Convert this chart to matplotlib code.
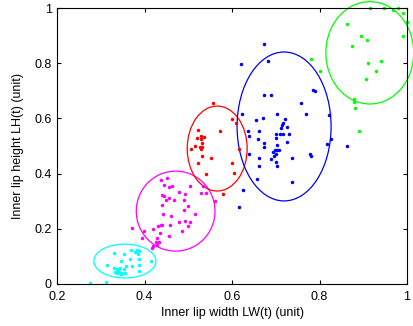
import matplotlib
matplotlib.use("Agg")
import matplotlib.pyplot as plt
from matplotlib.patches import Ellipse

plt.rcParams['font.family'] = ['Liberation Sans', 'DejaVu Sans']

# cluster points (inner lip width, inner lip height)
cyan_x = [0.329, 0.352, 0.368, 0.378, 0.382, 0.388, 0.386, 0.315, 0.346, 0.367,
          0.387, 0.414, 0.331, 0.336, 0.344, 0.352, 0.358, 0.371, 0.388, 0.333,
          0.338, 0.342, 0.348, 0.355, 0.388, 0.275, 0.312, 0.340, 0.345]
cyan_y = [0.111, 0.109, 0.124, 0.117, 0.124, 0.120, 0.109, 0.069, 0.083, 0.091,
          0.091, 0.083, 0.057, 0.053, 0.059, 0.053, 0.066, 0.066, 0.069, 0.042,
          0.039, 0.045, 0.041, 0.039, 0.047, 0.003, 0.006, 0.048, 0.035]

magenta_x = [0.437, 0.451, 0.445, 0.455, 0.462, 0.478, 0.493, 0.504, 0.445, 0.455,
             0.439, 0.449, 0.467, 0.490, 0.499, 0.440, 0.490, 0.528, 0.541, 0.533,
             0.560, 0.442, 0.461, 0.516, 0.431, 0.437, 0.440, 0.457, 0.478, 0.493,
             0.504, 0.486, 0.499, 0.371, 0.399, 0.420, 0.435, 0.394, 0.428, 0.455,
             0.425, 0.432, 0.420, 0.429, 0.416]
magenta_y = [0.378, 0.383, 0.359, 0.353, 0.354, 0.332, 0.327, 0.354, 0.319, 0.313,
             0.322, 0.303, 0.305, 0.305, 0.281, 0.285, 0.267, 0.331, 0.330, 0.356,
             0.302, 0.255, 0.248, 0.252, 0.211, 0.214, 0.213, 0.213, 0.226, 0.227,
             0.226, 0.192, 0.210, 0.202, 0.191, 0.199, 0.185, 0.166, 0.168, 0.175,
             0.151, 0.153, 0.137, 0.141, 0.131]

red_x = [0.557, 0.599, 0.609, 0.522, 0.573, 0.520, 0.530, 0.537, 0.530, 0.532,
         0.515, 0.527, 0.531, 0.528, 0.505, 0.531, 0.552, 0.522, 0.601, 0.615,
         0.605, 0.541, 0.580]
red_y = [0.656, 0.598, 0.583, 0.560, 0.556, 0.528, 0.535, 0.534, 0.524, 0.510,
         0.499, 0.495, 0.497, 0.490, 0.488, 0.465, 0.457, 0.437, 0.437, 0.488,
         0.402, 0.399, 0.326]

blue_x = [0.673, 0.683, 0.621, 0.673, 0.689, 0.758, 0.784, 0.790, 0.768, 0.821,
          0.622, 0.671, 0.654, 0.702, 0.721, 0.717, 0.714, 0.713, 0.726, 0.662,
          0.636, 0.639, 0.659, 0.700, 0.710, 0.716, 0.730, 0.700, 0.726, 0.674,
          0.674, 0.702, 0.698, 0.703, 0.707, 0.694, 0.701, 0.697, 0.688, 0.701,
          0.702, 0.736, 0.779, 0.781, 0.662, 0.662, 0.638, 0.818, 0.826, 0.658,
          0.736, 0.626, 0.862, 0.617]
blue_y = [0.870, 0.807, 0.796, 0.684, 0.684, 0.656, 0.703, 0.698, 0.617, 0.612,
          0.615, 0.600, 0.593, 0.615, 0.598, 0.583, 0.576, 0.566, 0.569, 0.554,
          0.555, 0.535, 0.525, 0.542, 0.542, 0.542, 0.545, 0.528, 0.513, 0.510,
          0.498, 0.504, 0.484, 0.484, 0.484, 0.477, 0.472, 0.463, 0.452, 0.442,
          0.429, 0.455, 0.471, 0.464, 0.455, 0.428, 0.471, 0.506, 0.527, 0.380,
          0.371, 0.342, 0.501, 0.280]

green_x = [0.916, 0.948, 0.969, 0.980, 0.991, 1.000, 0.990, 0.864, 0.896, 0.909,
           0.874, 0.781, 0.800, 0.912, 0.941, 0.930, 0.906, 0.880, 0.878, 0.881,
           0.890]
green_y = [0.999, 0.999, 0.993, 1.000, 0.983, 0.948, 0.899, 0.941, 0.899, 0.883,
           0.862, 0.814, 0.771, 0.800, 0.809, 0.772, 0.742, 0.669, 0.658, 0.638,
           0.555]

# ellipse per cluster: center, full width, full height
colors = ['#00ffff', '#ff00ff', '#ff0000', '#0000ff', '#00ff00']
ell_cx = [0.355, 0.471, 0.566, 0.719, 0.915]
ell_cy = [0.083, 0.264, 0.491, 0.571, 0.838]
ell_w = [0.142, 0.180, 0.137, 0.215, 0.201]
ell_h = [0.123, 0.290, 0.308, 0.540, 0.371]

xs = [cyan_x, magenta_x, red_x, blue_x, green_x]
ys = [cyan_y, magenta_y, red_y, blue_y, green_y]

fig = plt.figure(figsize=(4.14, 3.26), dpi=100)
ax = fig.add_axes([0.138, 0.129, 0.845, 0.846])

for i in range(5):
    ax.plot(xs[i], ys[i], '.', color=colors[i], markersize=3, clip_on=False)
    ax.add_patch(Ellipse((ell_cx[i], ell_cy[i]), ell_w[i], ell_h[i],
                         fill=False, edgecolor=colors[i], linewidth=0.9,
                         clip_on=False))

ax.set_xlim(0.2, 1)
ax.set_ylim(0, 1)
ax.set_xticks([0.2, 0.4, 0.6, 0.8, 1])
ax.set_xticklabels(['0.2', '0.4', '0.6', '0.8', '1'])
ax.set_yticks([0, 0.2, 0.4, 0.6, 0.8, 1])
ax.set_yticklabels(['0', '0.2', '0.4', '0.6', '0.8', '1'])
ax.tick_params(direction='in', top=True, right=True, labelsize=9, length=3)
ax.tick_params(axis='x', pad=5)
ax.tick_params(axis='y', pad=4)
ax.set_xlabel('Inner lip width LW(t) (unit)', fontsize=9, labelpad=3)
ax.set_ylabel('Inner lip height LH(t) (unit)', fontsize=9, labelpad=7)

fig.savefig('out.png', dpi=100)
